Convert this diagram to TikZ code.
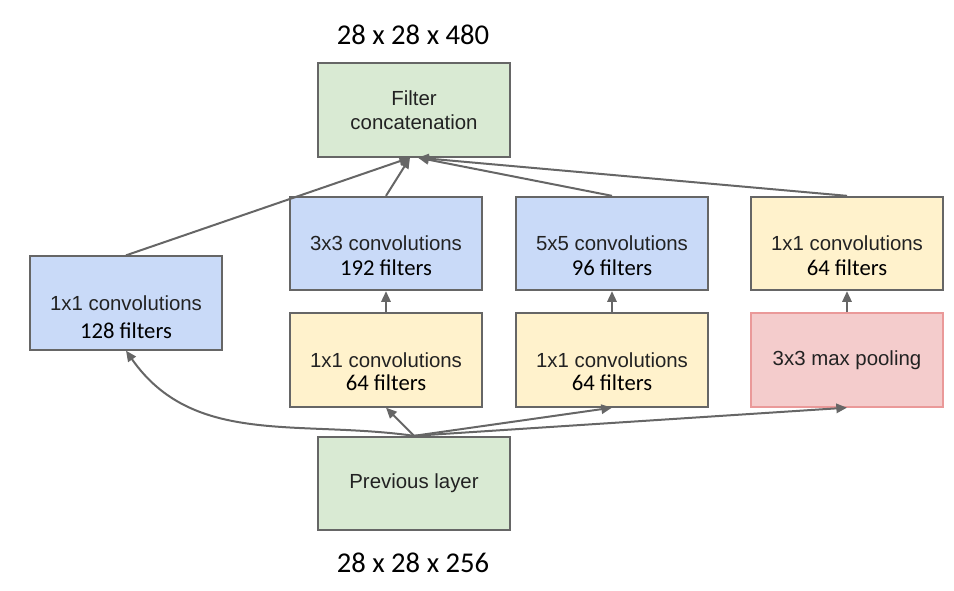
\documentclass[tikz,border=0pt]{standalone}
\usepackage{fontspec}
\setmainfont{Liberation Sans}
\newfontfamily\calibri{Carlito}
\usetikzlibrary{arrows.meta}
\definecolor{boxgreen}{RGB}{217,234,211}
\definecolor{boxblue}{RGB}{201,218,248}
\definecolor{boxyellow}{RGB}{255,242,204}
\definecolor{boxpink}{RGB}{244,204,204}
\definecolor{pinkline}{RGB}{234,153,153}
\definecolor{lineg}{RGB}{102,102,102}
\definecolor{textg}{RGB}{34,34,34}

\begin{document}
\begin{tikzpicture}[
    x=0.75pt, y=-0.75pt,
    layer/.style={rectangle, draw=lineg, line width=1.5pt, minimum width=144pt, minimum height=70pt, inner sep=0pt, align=center, text=textg, font=\fontsize{15.3}{18}\selectfont},
    concat/.style={layer, fill=boxgreen},
    conv/.style={layer, fill=boxblue},
    reduce/.style={layer, fill=boxyellow},
    poolbox/.style={layer, fill=boxpink, draw=pinkline},
    filt/.style={inner sep=0pt, font=\calibri\fontsize{17}{18}\selectfont},
    dims/.style={inner sep=0pt, font=\calibri\fontsize{21.5}{24}\selectfont},
    every edge/.style={draw=lineg, line width=1.5pt, -{Triangle[length=8pt,width=7pt]}}
]
\useasboundingbox (0,0) rectangle (954,590);

\node[concat] (FC) at (414,110) {Filter\\concatenation};

\node[conv] (C1) at (126,303) {1x1 convolutions};
\node[conv] (C3) at (386,243.5) {3x3 convolutions};
\node[conv] (C5) at (612,243.5) {5x5 convolutions};
\node[reduce] (CP) at (847,243.5) {1x1 convolutions};

\node[reduce] (R3) at (386,360) {1x1 convolutions};
\node[reduce] (R5) at (612,360) {1x1 convolutions};
\node[poolbox] (MP) at (847,360) {3x3 max pooling};

\node[concat] (PL) at (414,483.5) {Previous layer};

\node[filt] (C1-f) at ([yshift=-21pt]C1.center) {128 filters};
\node[filt] (C3-f) at ([yshift=-18pt]C3.center) {192 filters};
\node[filt] (C5-f) at ([yshift=-18pt]C5.center) {96 filters};
\node[filt] (CP-f) at ([yshift=-18pt]CP.center) {64 filters};
\node[filt] (R3-f) at ([yshift=-17pt]R3.center) {64 filters};
\node[filt] (R5-f) at ([yshift=-17pt]R5.center) {64 filters};

% Connections
\path (PL.north) edge[out=172, in=-55] (C1.south);
\foreach \n in {R3,R5,MP}
    \path (PL.north) edge (\n.south);

\foreach \a/\b in {R3/C3,R5/C5,MP/CP}
    \path (\a) edge (\b);

\foreach \n in {C1,C3}
    \path (\n.north) edge ([xshift=-3pt]FC.south);
\foreach \n in {C5,CP}
    \path (\n.north) edge ([xshift=3pt]FC.south);

% Labels
\node[dims] (FC-dims) at (413,35) {28 x 28 x 480};
\node[dims] (PL-dims) at (413,563) {28 x 28 x 256};

\end{tikzpicture}
\end{document}
